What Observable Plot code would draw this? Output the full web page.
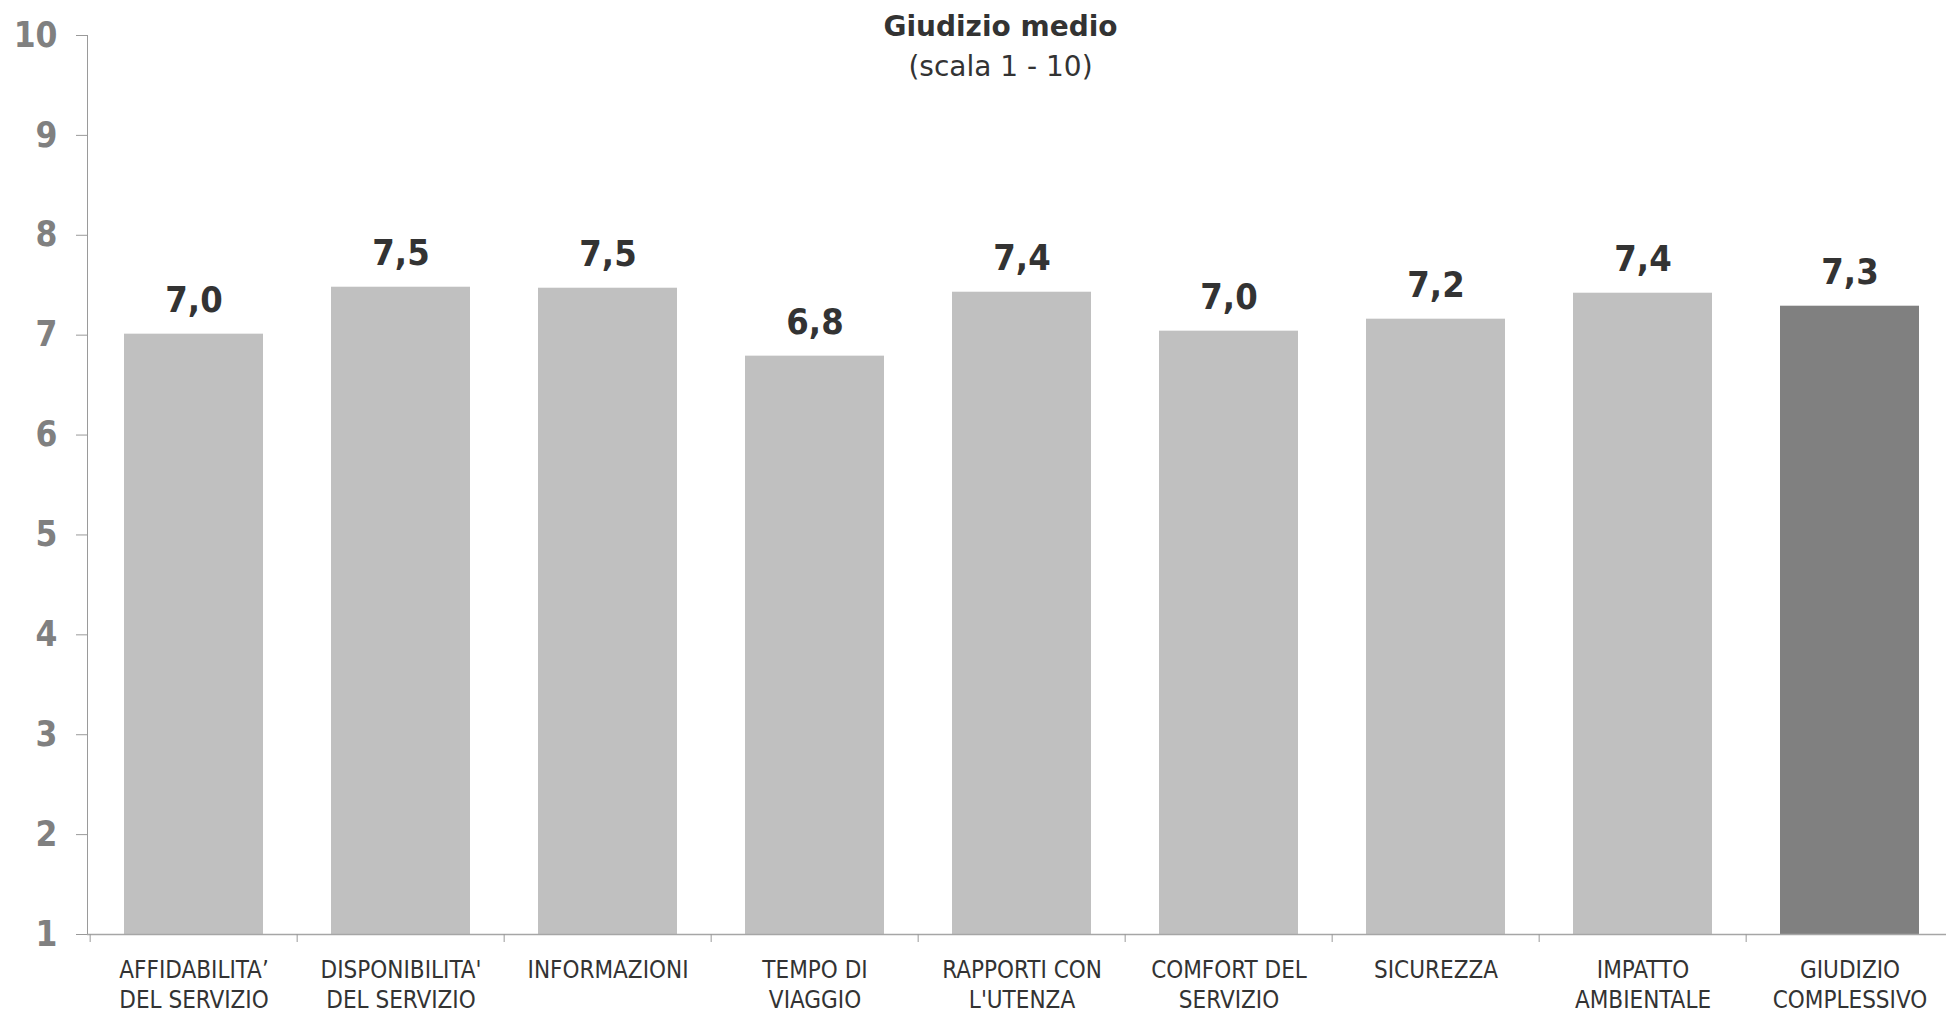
<!DOCTYPE html>
<html>
<head>
<meta charset="utf-8">
<script src="https://cdn.jsdelivr.net/npm/d3@7"></script>
<script src="https://cdn.jsdelivr.net/npm/@observablehq/plot@0.6"></script>
<style>
  html, body { margin: 0; padding: 0; background: #fff; overflow: hidden; }
  #chart { position: absolute; left: 0; top: 0; width: 1956px; }
  #chart svg { max-width: none !important; }
</style>
</head>
<body>
<div id="chart"></div>
<script>
const categories = [
  "AFFIDABILITA’\nDEL SERVIZIO",
  "DISPONIBILITA'\nDEL SERVIZIO",
  "INFORMAZIONI",
  "TEMPO DI\nVIAGGIO",
  "RAPPORTI CON\nL'UTENZA",
  "COMFORT DEL\nSERVIZIO",
  "SICUREZZA",
  "IMPATTO\nAMBIENTALE",
  "GIUDIZIO\nCOMPLESSIVO"
];
const values = [7.01, 7.48, 7.47, 6.79, 7.43, 7.04, 7.16, 7.42, 7.29];
const yTicks = [1, 2, 3, 4, 5, 6, 7, 8, 9, 10];
const titleText = "Giudizio medio";
const subtitleText = "(scala 1 - 10)";
const highlighted = "GIUDIZIO\nCOMPLESSIVO";

const data = categories.map((c, i) => ({cat: c, value: values[i]}));
const fmt = v => d3.format(".1f")(v).replace(".", ",");

const W = 1956, H = 1012, mL = 87, mR = 0, mT = 35, mB = 78;
const step = (W - mL - mR) / categories.length;
const condensed = "'DejaVu Sans Condensed', 'DejaVu Sans', sans-serif";
const titleDx = 1000 - (mL + (W - mR)) / 2;

const chart = Plot.plot({
  width: W,
  height: H,
  marginLeft: mL,
  marginRight: mR,
  marginTop: mT,
  marginBottom: mB,
  style: {fontFamily: "'DejaVu Sans', sans-serif", background: "#fff", overflow: "visible", maxWidth: "none"},
  x: {type: "band", domain: categories, padding: 0, label: null},
  y: {domain: [1, 10], ticks: yTicks, label: null},
  marks: [
    Plot.barY(data, {
      x: "cat", y1: 1, y2: "value",
      fill: d => d.cat === highlighted ? "#808080" : "#c0c0c0",
      insetLeft: 34, insetRight: 34
    }),
    Plot.frame({anchor: "left", stroke: "#9a9a9a"}),
    Plot.ruleY([1], {stroke: "#a6a6a6", strokeWidth: 1.5}),
    Plot.axisY({
      ticks: yTicks, tickSize: 11, tickPadding: 19, stroke: "#9a9a9a",
      fill: "#808080", fontSize: 35, fontWeight: "bold", fontFamily: condensed,
      tickFormat: d => String(d), label: null
    }),
    Plot.axisX({
      tickSize: 8, dx: -step / 2, stroke: "#9a9a9a", tickFormat: () => "", label: null
    }),
    Plot.axisX({
      tickSize: 0, tickPadding: 22, fontSize: 24, fill: "#333",
      fontFamily: condensed,
      lineHeight: 1.25, textOverflow: null, label: null
    }),
    Plot.text(data, {
      x: "cat", y: "value", text: d => fmt(d.value),
      lineAnchor: "bottom", dy: -22, fontSize: 36, fontWeight: "bold",
      fontFamily: condensed, fill: "#333"
    }),
    Plot.text([titleText], {
      frameAnchor: "top", text: d => d, dx: titleDx, dy: 0,
      lineAnchor: "bottom", fontSize: 28, fontWeight: "bold", fill: "#333"
    }),
    Plot.text([subtitleText], {
      frameAnchor: "top", text: d => d, dx: titleDx, dy: 40,
      lineAnchor: "bottom", fontSize: 28, fill: "#333"
    })
  ]
});
document.getElementById("chart").appendChild(chart);
</script>
</body>
</html>
